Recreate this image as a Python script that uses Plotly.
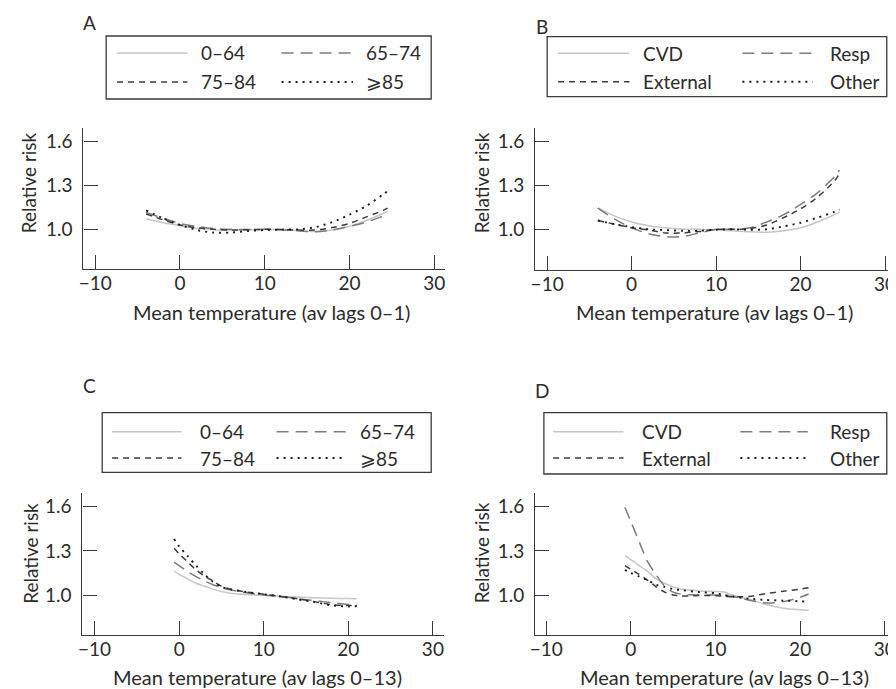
import plotly.graph_objects as go

# series names
age_groups = ["0–64", "65–74", "75–84", "⩾85"]
causes = ["CVD", "Resp", "External", "Other"]

x_ticks = [-10, 0, 10, 20, 30]
y_ticks = [1.0, 1.3, 1.6]

# A: age groups, lags 0-1
temp_a = [-4, -2, 0, 2, 4, 6, 8, 10, 12, 14, 16, 18, 20, 22, 24, 24.5]
a_0_64 = [1.07, 1.045, 1.025, 1.008, 0.997, 0.993, 0.995, 0.998, 0.997, 0.99, 0.985, 0.995, 1.02, 1.06, 1.11, 1.125]
a_65_74 = [1.115, 1.075, 1.04, 1.02, 1.005, 1.0, 0.998, 1.0, 0.997, 0.99, 0.983, 0.995, 1.02, 1.05, 1.09, 1.1]
a_75_84 = [1.105, 1.065, 1.03, 1.01, 1.0, 0.995, 0.997, 1.0, 0.998, 0.995, 0.995, 1.012, 1.04, 1.085, 1.13, 1.145]
a_85 = [1.13, 1.075, 1.03, 0.995, 0.977, 0.978, 0.988, 0.995, 0.998, 1.0, 1.015, 1.05, 1.1, 1.16, 1.24, 1.26]

# B: causes, lags 0-1
temp_b = [-4, -2, 0, 2, 4, 6, 8, 10, 12, 14, 16, 18, 20, 22, 24, 24.6]
b_cvd = [1.147, 1.09, 1.05, 1.025, 1.01, 1.002, 1.0, 0.995, 0.99, 0.983, 0.98, 0.99, 1.01, 1.05, 1.1, 1.12]
b_resp = [1.145, 1.07, 1.01, 0.97, 0.95, 0.95, 0.975, 1.0, 1.0, 1.01, 1.05, 1.1, 1.17, 1.25, 1.36, 1.405]
b_external = [1.06, 1.035, 1.01, 0.995, 0.975, 0.975, 0.985, 1.0, 1.0, 1.005, 1.03, 1.08, 1.14, 1.22, 1.33, 1.38]
b_other = [1.06, 1.035, 1.015, 1.0, 0.995, 0.99, 0.99, 0.997, 1.0, 0.997, 1.0, 1.02, 1.045, 1.08, 1.12, 1.135]

# C: age groups, lags 0-13
temp_c = [-0.6, 0, 1, 2, 3, 4, 5, 6, 8, 10, 12, 14, 16, 18, 20, 21]
c_0_64 = [1.163, 1.14, 1.11, 1.08, 1.06, 1.04, 1.024, 1.012, 1.003, 0.998, 0.992, 0.986, 0.981, 0.978, 0.976, 0.975]
c_65_74 = [1.222, 1.2, 1.16, 1.125, 1.095, 1.07, 1.05, 1.035, 1.015, 1.0, 0.99, 0.975, 0.962, 0.948, 0.935, 0.932]
c_75_84 = [1.317, 1.28, 1.225, 1.17, 1.13, 1.095, 1.06, 1.04, 1.02, 1.005, 0.99, 0.975, 0.955, 0.935, 0.928, 0.93]
c_85 = [1.38, 1.33, 1.265, 1.2, 1.14, 1.09, 1.055, 1.04, 1.02, 1.005, 0.99, 0.97, 0.952, 0.93, 0.922, 0.925]

# D: causes, lags 0-13
temp_d = [-0.7, 0, 1, 2, 3, 4, 5, 6, 8, 10, 11, 12, 14, 16, 18, 20, 21]
d_cvd = [1.267, 1.24, 1.2, 1.16, 1.11, 1.08, 1.055, 1.04, 1.028, 1.024, 1.02, 1.0, 0.97, 0.935, 0.91, 0.9, 0.897]
d_resp = [1.596, 1.5, 1.36, 1.225, 1.136, 1.06, 1.02, 1.005, 1.0, 1.0, 0.998, 0.99, 0.965, 0.945, 0.955, 0.984, 1.007]
d_external = [1.2, 1.175, 1.14, 1.1, 1.055, 1.02, 1.0, 0.993, 0.997, 0.995, 0.992, 0.988, 0.99, 1.01, 1.025, 1.04, 1.05]
d_other = [1.17, 1.15, 1.125, 1.1, 1.07, 1.055, 1.04, 1.033, 1.02, 1.012, 1.0, 0.99, 0.975, 0.966, 0.962, 0.957, 0.955]

# page body has an 8px margin, so the figure is drawn 8px smaller and all
# pixel positions below are screen positions shifted by that offset
OFF = 8
W, H = 896 - OFF, 689 - OFF
FONT = "Lato"
FS = 19
TXT = "#2b2b2b"
AX = "#3a3a3a"

styles = [
    dict(color="#c6c6c6", width=1.5, dash="solid"),
    dict(color="#7c7c7c", width=1.5, dash="12px,7px"),
    dict(color="#3c3c3c", width=1.5, dash="6px,5px"),
    dict(color="#1c1c1c", width=1.9, dash="2px,5px"),
]


def px(x):
    return (x - OFF) / W


def py(y):
    return 1 - (y - OFF) / H


def lin_range(p0, p1, pa, va, pb, vb):
    # value at pixel p0 and p1, given two known tick positions
    k = (vb - va) / (pb - pa)
    return [va + (p0 - pa) * k, va + (p1 - pa) * k]


panels = [
    dict(label="A", temps=temp_a, series=[a_0_64, a_65_74, a_75_84, a_85], names=age_groups,
         title="Mean temperature (av lags 0–1)",
         xdom=(78, 443), ydom=(128, 269), xt=(90, 432), yt=(229.3, 141.7),
         lab=(84.5, 22), xtitle=(268, 312), ytitle=(23, 182.5),
         box=(101, 36, 429, 99), rows=(53, 82), cols=((112, 183, 195), (278, 350, 361))),
    dict(label="B", temps=temp_b, series=[b_cvd, b_resp, b_external, b_other], names=causes,
         title="Mean temperature (av lags 0–1)",
         xdom=(534, 896), ydom=(128, 270), xt=(546, 887), yt=(229.3, 141.7),
         lab=(541, 27), xtitle=(714.5, 312), ytitle=(480, 182.5),
         box=(546, 36.7, 888.7, 96.7), rows=(53.3, 81.7), cols=((557, 629, 641), (743, 814, 829))),
    dict(label="C", temps=temp_c, series=[c_0_64, c_65_74, c_75_84, c_85], names=age_groups,
         title="Mean temperature (av lags 0–13)",
         xdom=(77, 442), ydom=(493, 635), xt=(89.3, 430.7), yt=(595, 506.7),
         lab=(84, 385), xtitle=(254, 677), ytitle=(24, 553),
         box=(97, 412.7, 429, 472.3), rows=(431.7, 458), cols=((107, 177, 194), (273, 343, 355))),
    dict(label="D", temps=temp_d, series=[d_cvd, d_resp, d_external, d_other], names=causes,
         title="Mean temperature (av lags 0–13)",
         xdom=(534, 896), ydom=(493, 635), xt=(545, 886.7), yt=(595, 506.7),
         lab=(540.5, 390), xtitle=(725, 677), ytitle=(480, 552.5),
         box=(542.7, 412.7, 888.7, 474), rows=(431.7, 458), cols=((552, 623, 640), (741, 809, 829))),
]

fig = go.Figure()
shapes = []
annotations = []
layout_axes = {}

for i, p in enumerate(panels):
    n = "" if i == 0 else str(i + 1)
    for vals, name, st in zip(p["series"], p["names"], styles):
        fig.add_trace(go.Scatter(
            x=p["temps"], y=vals, mode="lines", name=name,
            line=dict(shape="spline", smoothing=0.8, **st),
            xaxis="x" + n, yaxis="y" + n, showlegend=False,
        ))

    layout_axes["xaxis" + n] = dict(
        domain=[px(p["xdom"][0]), min(px(p["xdom"][1]), 1.0)],
        range=lin_range(p["xdom"][0], min(p["xdom"][1], 896), p["xt"][0], -10, p["xt"][1], 30),
        anchor="y" + n, tickvals=x_ticks, ticks="inside", ticklen=14, tickwidth=1.3,
        tickcolor=AX, showline=True, linecolor=AX, linewidth=1.3,
        showgrid=False, zeroline=False, ticklabelstandoff=-3, ticklabeloverflow="allow",
        tickfont=dict(family=FONT, size=FS, color=TXT),
    )
    layout_axes["yaxis" + n] = dict(
        domain=[py(p["ydom"][1]), py(p["ydom"][0])],
        range=lin_range(p["ydom"][1], p["ydom"][0], p["yt"][0], 1.0, p["yt"][1], 1.6),
        anchor="x" + n, tickvals=y_ticks, tickformat=".1f", ticks="inside", ticklen=14,
        tickwidth=1.3, tickcolor=AX, showline=True, linecolor=AX, linewidth=1.3,
        showgrid=False, zeroline=False, ticklabelstandoff=6,
        tickfont=dict(family=FONT, size=FS, color=TXT),
    )

    # panel letter and axis titles
    annotations.append(dict(x=px(p["lab"][0]), y=py(p["lab"][1]), text=p["label"], showarrow=False,
                            xref="paper", yref="paper", xanchor="center", yanchor="middle",
                            font=dict(family=FONT, size=FS, color=TXT)))
    annotations.append(dict(x=px(p["xtitle"][0]), y=py(p["xtitle"][1]), text=p["title"], showarrow=False,
                            xref="paper", yref="paper", xanchor="center", yanchor="middle",
                            font=dict(family=FONT, size=20, color=TXT)))
    annotations.append(dict(x=px(p["ytitle"][0]), y=py(p["ytitle"][1]), text="Relative risk", showarrow=False,
                            xref="paper", yref="paper", xanchor="center", yanchor="middle", textangle=-90,
                            font=dict(family=FONT, size=FS, color=TXT)))

    # legend box drawn by hand
    x0, y0, x1, y1 = p["box"]
    shapes.append(dict(type="rect", xref="paper", yref="paper", x0=px(x0), x1=px(x1), y0=py(y1), y1=py(y0),
                       line=dict(color=AX, width=1.3), fillcolor="white"))
    for j, (name, st) in enumerate(zip(p["names"], styles)):
        row = p["rows"][j // 2]
        l0, l1, tx = p["cols"][j % 2]
        shapes.append(dict(type="line", xref="paper", yref="paper", x0=px(l0), x1=px(l1), y0=py(row), y1=py(row),
                           line=dict(color=st["color"], width=st["width"], dash=st["dash"])))
        annotations.append(dict(x=px(tx), y=py(row), text=name, showarrow=False, xref="paper", yref="paper",
                                xanchor="left", yanchor="middle", font=dict(family=FONT, size=FS, color=TXT)))

fig.update_layout(
    width=W, height=H,
    margin=dict(l=0, r=0, t=0, b=0),
    paper_bgcolor="white", plot_bgcolor="white",
    font=dict(family=FONT, size=FS, color=TXT),
    shapes=shapes, annotations=annotations,
    **layout_axes,
)

fig.write_html("out.html")
